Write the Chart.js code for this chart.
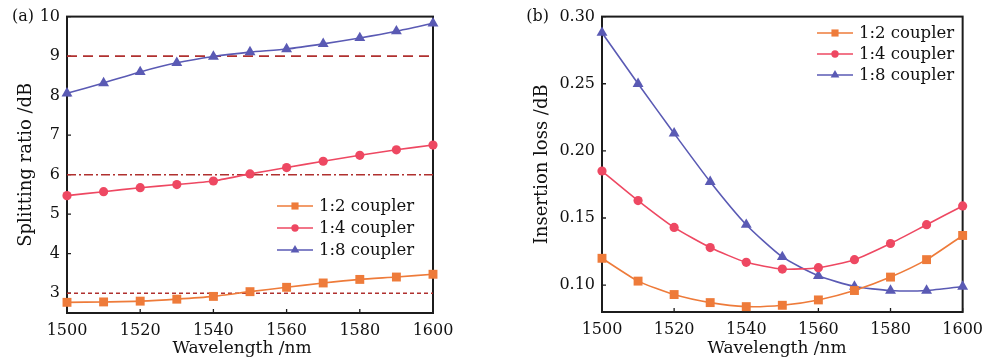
<!DOCTYPE html>
<html><head><meta charset="utf-8">
<script src="https://cdn.jsdelivr.net/npm/chart.js@4/dist/chart.umd.min.js"></script>
<style>
html,body{margin:0;padding:0;background:#fff;overflow:hidden}
#ca{position:absolute;left:0;top:0}
#cb{position:absolute;left:495px;top:0}
</style></head><body>
<canvas id="ca" width="495" height="361"></canvas>
<canvas id="cb" width="496" height="361"></canvas>
<script>
// ---- data ----
const wavelengths = [1500,1510,1520,1530,1540,1550,1560,1570,1580,1590,1600];
const split12 = [2.77,2.78,2.80,2.85,2.92,3.04,3.15,3.26,3.35,3.41,3.48];
const split14 = [5.47,5.57,5.67,5.75,5.84,6.02,6.18,6.34,6.49,6.63,6.75];
const split18 = [8.06,8.32,8.60,8.83,8.99,9.10,9.18,9.31,9.46,9.63,9.83];
const loss12 = [0.120,0.103,0.093,0.087,0.084,0.085,0.089,0.096,0.106,0.119,0.137];
const loss14 = [0.185,0.163,0.143,0.128,0.117,0.112,0.113,0.119,0.131,0.145,0.159];
const loss18 = [0.288,0.250,0.213,0.177,0.145,0.121,0.107,0.099,0.096,0.096,0.099];
const seriesLabels = ['1:2 coupler','1:4 coupler','1:8 coupler'];
const refLevels = [9, 6, 3];
const xTicks = [1500,1520,1540,1560,1580,1600];
const splitTicks = [3,4,5,6,7,8,9,10];
const lossTicks = [0.10,0.15,0.20,0.25,0.30];
const xTitle = 'Wavelength /nm';

// ---- styles ----
const FONT = '"DejaVu Serif", serif';
const TXT = '#111';
const colors = ['#EE7B3A','#EE4862','#5A5AB4'];
const shapes = ['rect','circle','triangle'];
const radii = [6.3,4.6,6.3];
const refColor = '#B0302F';
const refDash = [[10,6],[9,3,2,3],[4,3]];

function seriesDatasets(arrs){
  return arrs.map((arr,i)=>({
    label: seriesLabels[i],
    data: wavelengths.map((w,k)=>({x:w,y:arr[k]})),
    borderColor: colors[i], backgroundColor: colors[i],
    pointStyle: shapes[i], pointRadius: radii[i], pointBorderWidth: 0,
    pointHoverRadius: radii[i],
    borderWidth: 1.6, tension: 0.2, clip: false, isSeries: true
  }));
}
function refDatasets(){
  return refLevels.map((v,i)=>({
    label: 'ref'+v,
    data: [{x:wavelengths[0],y:v},{x:wavelengths[wavelengths.length-1],y:v}],
    borderColor: refColor, borderWidth: 1.6, borderDash: refDash[i],
    pointRadius: 0, tension: 0, isSeries: false
  }));
}

const framePlugin = {
  id: 'frame',
  beforeDatasetsDraw(chart){
    const {ctx, chartArea:a, scales} = chart;
    ctx.save();
    ctx.strokeStyle = '#1c1c1c'; ctx.lineWidth = 1.3;
    ctx.beginPath();
    scales.x.ticks.forEach(t=>{ const px = scales.x.getPixelForValue(t.value); ctx.moveTo(px,a.bottom); ctx.lineTo(px,a.bottom-4); });
    scales.y.ticks.forEach(t=>{ const py = scales.y.getPixelForValue(t.value); ctx.moveTo(a.left,py); ctx.lineTo(a.left+4,py); });
    ctx.stroke();
    ctx.lineWidth = 2;
    ctx.strokeRect(a.left, a.top, a.right-a.left, a.bottom-a.top);
    ctx.restore();
  }
};
const legendPlugin = {
  id: 'inlegend',
  afterDraw(chart, args, opts){
    const ctx = chart.ctx;
    ctx.save();
    ctx.font = '16.5px ' + FONT;
    ctx.textBaseline = 'middle';
    chart.data.datasets.filter(d=>d.isSeries).forEach((d,i)=>{
      const y = opts.y + i*opts.dy;
      ctx.strokeStyle = d.borderColor; ctx.lineWidth = 1.6; ctx.setLineDash([]);
      ctx.beginPath(); ctx.moveTo(opts.x, y); ctx.lineTo(opts.x+36, y); ctx.stroke();
      ctx.fillStyle = d.backgroundColor;
      Chart.helpers.drawPoint(ctx, {pointStyle:d.pointStyle, radius:d.pointRadius*0.8, borderWidth:0, rotation:0}, opts.x+18, y);
      ctx.fillStyle = TXT;
      ctx.fillText(d.label, opts.x+42, y+1);
    });
    ctx.restore();
  }
};
const textPlugin = {
  id: 'panel',
  afterDraw(chart, args, opts){
    const ctx = chart.ctx;
    ctx.save();
    ctx.fillStyle = TXT; ctx.textBaseline = 'middle';
    ctx.font = '16px ' + FONT; ctx.textAlign = 'right';
    ctx.fillText(opts.text, opts.x, chart.chartArea.top);
    ctx.font = '17px ' + FONT; ctx.textAlign = 'center';
    ctx.fillText(xTitle, opts.titleX, opts.titleY);
    ctx.restore();
  }
};

function makeChart(id, arrs, refs, yTicks, yMin, yMax, yTitle, yw, xh, padR, yTitlePad, fmt, legendPos, panel){
  return new Chart(document.getElementById(id), {
    type: 'line',
    data: { datasets: seriesDatasets(arrs).concat(refs) },
    options: {
      responsive: false, animation: false, devicePixelRatio: 1,
      layout: { padding: {left:0, right:padR, top:15, bottom:0} },
      plugins: { legend:{display:false}, tooltip:{enabled:false},
        inlegend: legendPos, panel: panel },
      scales: {
        x: { type:'linear', min:1500, max:1600,
          afterBuildTicks: s=>{ s.ticks = xTicks.map(v=>({value:v})); },
          afterFit: s=>{ s.height = xh; },
          grid:{display:false, drawTicks:false}, border:{display:false},
          ticks:{ font:{family:FONT,size:16}, color:TXT, padding:8, maxRotation:0, autoSkip:false, callback:v=>String(v) },
          title:{ display:false }
        },
        y: { type:'linear', min:yMin, max:yMax,
          afterBuildTicks: s=>{ s.ticks = yTicks.map(v=>({value:v})); },
          afterFit: s=>{ s.width = yw; },
          grid:{display:false, drawTicks:false}, border:{display:false},
          ticks:{ font:{family:FONT,size:16}, color:TXT, padding:7, autoSkip:false, callback:fmt },
          title:{ display:true, text:yTitle, font:{family:FONT,size:18}, color:TXT, padding:{top:yTitlePad,bottom:0} }
        }
      }
    },
    plugins: [framePlugin, legendPlugin, textPlugin]
  });
}

makeChart('ca', [split12,split14,split18], refDatasets(), splitTicks, 2.5, 10,
  'Splitting ratio /dB', 67, 48, 62, 16, v=>String(v), {x:277,y:206,dy:22}, {text:'(a)',x:34,titleX:242,titleY:349});
makeChart('cb', [loss12,loss14,loss18], [], lossTicks, 0.08, 0.30,
  'Insertion loss /dB', 107, 49, 22, 37, v=>Number(v).toFixed(2), {x:322,y:33,dy:21}, {text:'(b)',x:54,titleX:282,titleY:349});
</script>
</body></html>
